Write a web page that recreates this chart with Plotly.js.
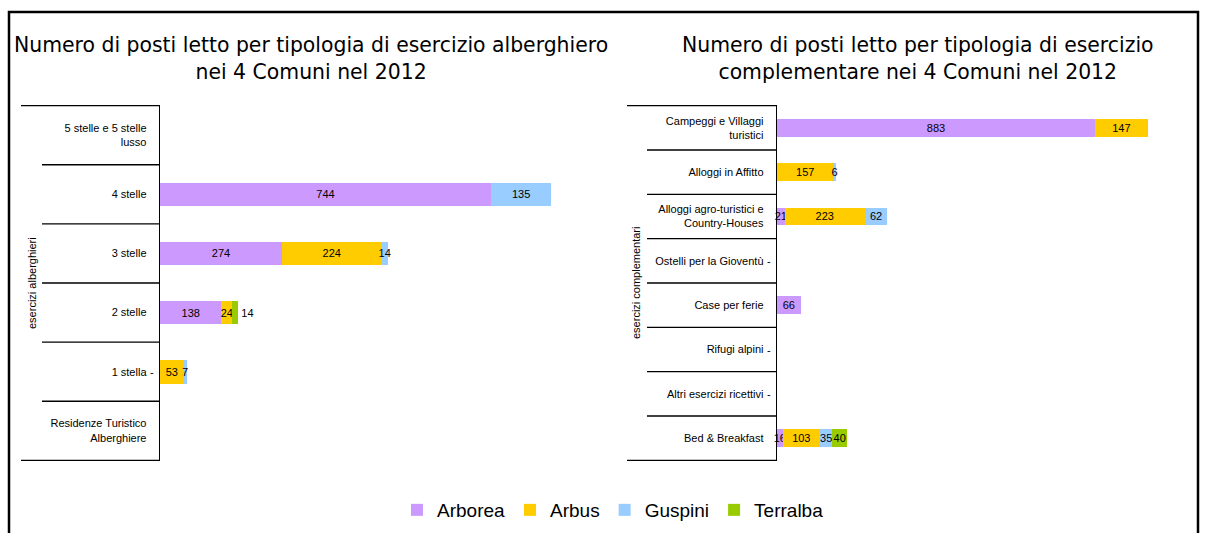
<!DOCTYPE html>
<html><head><meta charset="utf-8">
<script src="https://cdn.plot.ly/plotly-3.0.1.min.js"></script>
<style>html,body{margin:0;padding:0;background:#fff}#chart{width:1208px;height:533px}</style>
</head><body><div id="chart"></div>
<script>
// ---- data ----
const series = ["Arborea", "Arbus", "Guspini", "Terralba"];
const seriesColors = ["#CC99FF", "#FFCC00", "#99CCFF", "#99CC00"];

const hotelCats = ["5 stelle e 5 stelle<br>lusso", "4 stelle", "3 stelle", "2 stelle", "1 stella", "Residenze Turistico<br>Alberghiere"];
const hotelArborea  = [null, 744, 274, 138, null, null];
const hotelArbus    = [null, null, 224, 24, 53, null];
const hotelGuspini  = [null, 135, 14, null, 7, null];
const hotelTerralba = [null, null, null, 14, null, null];
const hotelDash     = ["", "", "", "", "-", ""];

const compCats = ["Campeggi e Villaggi<br>turistici", "Alloggi in Affitto", "Alloggi agro-turistici e<br>Country-Houses", "Ostelli per la Gioventù", "Case per ferie", "Rifugi alpini", "Altri esercizi ricettivi", "Bed & Breakfast"];
const compArborea  = [883, null, 21, null, 66, null, null, 16];
const compArbus    = [147, 157, 223, null, null, null, null, 103];
const compGuspini  = [null, 6, 62, null, null, null, null, 35];
const compTerralba = [null, null, null, null, null, null, null, 40];
const compDash     = ["", "", "", "-", "", "-", "-", ""];

const titleLeft = "Numero di posti letto per tipologia di esercizio alberghiero<br>nei 4 Comuni nel 2012";
const titleRight = "Numero di posti letto per tipologia di esercizio<br>complementare nei 4 Comuni nel 2012";
const axisTitleLeft = "esercizi alberghieri";
const axisTitleRight = "esercizi complementari";

// ---- geometry helpers (pixels -> paper) ----
const W = 1208, H = 533;
const px = v => v / W;
const py = v => 1 - v / H;

const smallFont = {family: "Liberation Sans, Arial, sans-serif", size: 11, color: "#000"};
const titleFont = {family: "DejaVu Sans, sans-serif", size: 20.4, color: "#000"};

function mkTraces(cats, cols, xa, ya, showLegend) {
  return cols.map((vals, i) => ({
    type: "bar", orientation: "h",
    y: cats, x: vals,
    name: series[i],
    xaxis: xa, yaxis: ya,
    marker: {color: seriesColors[i], line: {width: 0}},
    text: vals.map(v => v == null ? "" : String(v)),
    // a tiny last segment whose label would collide with its neighbour goes just outside
    textposition: vals.map((v, k) => (i === 3 && v != null && v < 20) ? "outside" : "inside"),
    insidetextanchor: "middle", textangle: 0,
    textfont: smallFont, outsidetextfont: smallFont, constraintext: "none",
    cliponaxis: false,
    hoverinfo: "skip",
    showlegend: showLegend, legendgroup: series[i]
  }));
}

const traces = [
  ...mkTraces(hotelCats, [hotelArborea, hotelArbus, hotelGuspini, hotelTerralba], "x", "y", true),
  ...mkTraces(compCats, [compArborea, compArbus, compGuspini, compTerralba], "x2", "y2", false)
];

const shapes = [];
function separators(n, yref, xLong, xShort, xAxis) {
  for (let i = 0; i <= n; i++) {
    const edge = (i === 0 || i === n);
    shapes.push({type: "line", xref: "paper", yref: yref,
      x0: px(edge ? xLong : xShort), x1: px(xAxis), y0: i - 0.5, y1: i - 0.5,
      line: {color: "#000", width: 1.3}});
  }
}
separators(hotelCats.length, "y", 21, 42, 160);
separators(compCats.length, "y2", 627, 647, 777);
// outer border
shapes.push({type: "rect", xref: "paper", yref: "paper",
  x0: px(9), x1: px(1198), y0: -0.2, y1: py(12),
  line: {color: "#000", width: 2.5}, fillcolor: "rgba(0,0,0,0)"});

const annotations = [
  {text: titleLeft, xref: "paper", yref: "paper", x: px(311), y: py(31), xanchor: "center", yanchor: "top", showarrow: false, font: titleFont},
  {text: titleRight, xref: "paper", yref: "paper", x: px(918), y: py(31), xanchor: "center", yanchor: "top", showarrow: false, font: titleFont},
  {text: axisTitleLeft, xref: "paper", yref: "paper", x: px(32), y: py(283), xanchor: "center", yanchor: "middle", textangle: -90, showarrow: false, font: smallFont},
  {text: axisTitleRight, xref: "paper", yref: "paper", x: px(636), y: py(283), xanchor: "center", yanchor: "middle", textangle: -90, showarrow: false, font: smallFont}
];
hotelDash.forEach((d, i) => { if (d) annotations.push({text: d, xref: "x", yref: "y", x: 0, y: hotelCats[i], xanchor: "right", xshift: -4, showarrow: false, font: smallFont}); });
compDash.forEach((d, i) => { if (d) annotations.push({text: d, xref: "x2", yref: "y2", x: 0, y: compCats[i], xanchor: "right", xshift: -4, showarrow: false, font: smallFont}); });

const yCommon = {type: "category", autorange: "reversed", showline: true, linecolor: "#000", linewidth: 1.3,
  showgrid: false, zeroline: false, ticks: "", ticklabelstandoff: 10, tickfont: smallFont, fixedrange: true};
const xCommon = {showline: false, showgrid: false, zeroline: false, showticklabels: false, ticks: "", fixedrange: true};

const layout = {
  width: W, height: H,
  margin: {l: 0, r: 0, t: 0, b: 0, pad: 0},
  paper_bgcolor: "#fff", plot_bgcolor: "#fff",
  barmode: "stack", bargap: 0.6,
  uniformtext: {mode: "show", minsize: 11},
  xaxis: Object.assign({}, xCommon, {domain: [px(160), px(605)], range: [0, 1000], anchor: "y"}),
  yaxis: Object.assign({}, yCommon, {domain: [py(461), py(105)], anchor: "x"}),
  xaxis2: Object.assign({}, xCommon, {domain: [px(777), 1], range: [0, 1197], anchor: "y2"}),
  yaxis2: Object.assign({}, yCommon, {domain: [py(461), py(105)], anchor: "x2"}),
  showlegend: true,
  legend: {orientation: "h", x: px(613), y: py(510), xanchor: "center", yanchor: "middle",
    font: {family: "Liberation Sans, Arial, sans-serif", size: 19, color: "#000"},
    itemwidth: 30, traceorder: "normal", bgcolor: "rgba(0,0,0,0)"},
  shapes: shapes,
  annotations: annotations
};

Plotly.newPlot("chart", traces, layout, {displayModeBar: false, staticPlot: true});
</script></body></html>
